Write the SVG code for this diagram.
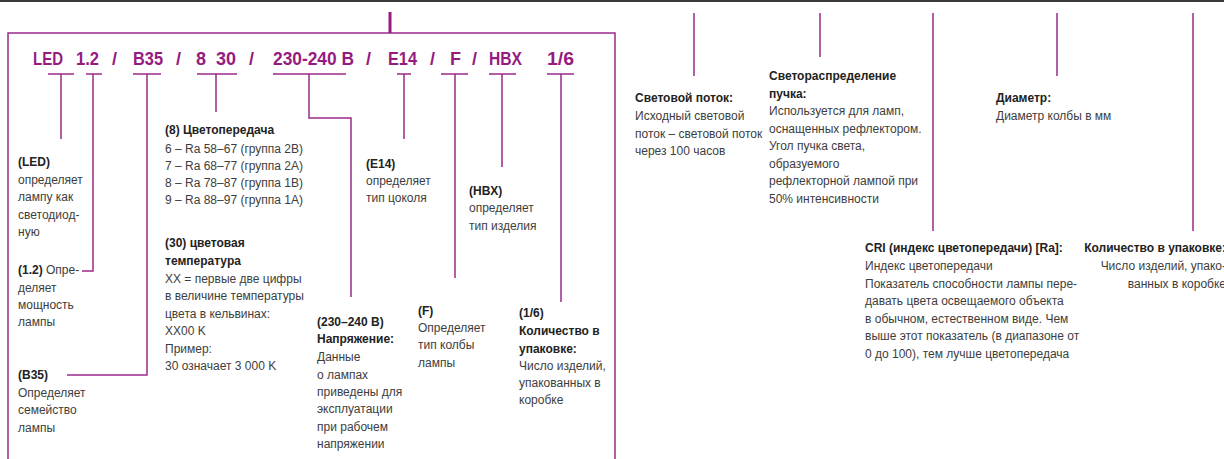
<svg xmlns="http://www.w3.org/2000/svg" width="1224" height="459" viewBox="0 0 1224 459">
<style>
text{font-family:"Liberation Sans",Arial,sans-serif;font-size:12px;fill:#3d3d3d}
.b{font-weight:bold;fill:#222}
.t{font-size:18px;font-weight:bold;fill:#951b81}
.c{fill:none;stroke:#9a2a8a;stroke-width:1.5}
.e{text-anchor:end}
</style>
<rect width="1224" height="459" fill="#fff"/>
<line x1="0" y1="1" x2="1224" y2="1" stroke="#3a3a3a" stroke-width="2"/>
<g id="frame">
<path class="c" d="M8,459V33H615V459"/>
<line x1="390" y1="12" x2="390" y2="33" stroke="#951b81" stroke-width="3"/>
</g>
<g id="title">
<text class="t" x="33" y="65" textLength="30" lengthAdjust="spacingAndGlyphs">LED</text>
<text class="t" x="76" y="65" textLength="23" lengthAdjust="spacingAndGlyphs">1.2</text>
<text class="t" x="112" y="65">/</text>
<text class="t" x="133" y="65" textLength="30" lengthAdjust="spacingAndGlyphs">B35</text>
<text class="t" x="176" y="65">/</text>
<text class="t" x="196" y="65">8</text>
<text class="t" x="216" y="65">30</text>
<text class="t" x="249" y="65">/</text>
<text class="t" x="273" y="65" textLength="81" lengthAdjust="spacingAndGlyphs">230-240 В</text>
<text class="t" x="366" y="65">/</text>
<text class="t" x="388" y="65" textLength="29" lengthAdjust="spacingAndGlyphs">E14</text>
<text class="t" x="430" y="65">/</text>
<text class="t" x="450" y="65">F</text>
<text class="t" x="472" y="65">/</text>
<text class="t" x="489" y="65" textLength="33" lengthAdjust="spacingAndGlyphs">HBX</text>
<text class="t" x="547" y="65" textLength="27" lengthAdjust="spacingAndGlyphs">1/6</text>
</g>
<g id="connectors">
<path class="c" d="M48,74H74M61,74V139"/>
<path class="c" d="M86,74H102M93,74V271H82"/>
<path class="c" d="M133,74H161M147,74V375H67"/>
<path class="c" d="M197,74H237M216,74V112"/>
<path class="c" d="M273,74H346M309,74V118H351V297"/>
<path class="c" d="M397,74H411M404,74V139"/>
<path class="c" d="M441,74H468M455,74V278"/>
<path class="c" d="M489,74H516M502,74V167"/>
<path class="c" d="M547,74H574M561,74V302"/>
<path class="c" d="M694,13V76"/>
<path class="c" d="M820,13V57"/>
<path class="c" d="M933,13V231"/>
<path class="c" d="M1057,13V76"/>
<path class="c" d="M1193,13V231"/>
</g>
<g id="n-led">
<text x="18" y="166" class="b">(LED)</text>
<text x="18" y="183.5">определяет</text>
<text x="18" y="201">лампу как</text>
<text x="18" y="218.5">светодиод-</text>
<text x="18" y="236">ную</text>
</g>
<g id="n-12">
<text x="18" y="274"><tspan class="b">(1.2)</tspan> Опре-</text>
<text x="18" y="292">деляет</text>
<text x="18" y="309">мощность</text>
<text x="18" y="326">лампы</text>
</g>
<g id="n-b35">
<text x="18" y="379" class="b">(B35)</text>
<text x="18" y="397">Определяет</text>
<text x="18" y="414">семейство</text>
<text x="18" y="432">лампы</text>
</g>
<g id="n-8">
<text x="165" y="134" class="b">(8) Цветопередача</text>
<text x="165" y="153">6 – Ra 58–67 (группа 2В)</text>
<text x="165" y="170">7 – Ra 68–77 (группа 2А)</text>
<text x="165" y="187">8 – Ra 78–87 (группа 1В)</text>
<text x="165" y="204">9 – Ra 88–97 (группа 1А)</text>
</g>
<g id="n-30">
<text x="165" y="247" class="b">(30) цветовая</text>
<text x="165" y="265" class="b">температура</text>
<text x="165" y="283">XX = первые две цифры</text>
<text x="165" y="300">в величине температуры</text>
<text x="165" y="318">цвета в кельвинах:</text>
<text x="165" y="335">XX00 K</text>
<text x="165" y="353">Пример:</text>
<text x="165" y="370">30 означает 3 000 K</text>
</g>
<g id="n-230">
<text x="317" y="326" class="b">(230–240 В)</text>
<text x="317" y="343" class="b">Напряжение:</text>
<text x="317" y="361">Данные</text>
<text x="317" y="379">о лампах</text>
<text x="317" y="396">приведены для</text>
<text x="317" y="413">эксплуатации</text>
<text x="317" y="431">при рабочем</text>
<text x="317" y="448">напряжении</text>
</g>
<g id="n-e14">
<text x="366" y="168" class="b">(E14)</text>
<text x="366" y="185">определяет</text>
<text x="366" y="202">тип цоколя</text>
</g>
<g id="n-f">
<text x="418" y="315" class="b">(F)</text>
<text x="418" y="332">Определяет</text>
<text x="418" y="349">тип колбы</text>
<text x="418" y="367">лампы</text>
</g>
<g id="n-hbx">
<text x="469" y="195" class="b">(HBX)</text>
<text x="469" y="212">определяет</text>
<text x="469" y="230">тип изделия</text>
</g>
<g id="n-16">
<text x="519" y="317" class="b">(1/6)</text>
<text x="519" y="335" class="b">Количество в</text>
<text x="519" y="353" class="b">упаковке:</text>
<text x="519" y="370">Число изделий,</text>
<text x="519" y="387">упакованных в</text>
<text x="519" y="404">коробке</text>
</g>
<g id="n-flux">
<text x="635" y="102" class="b">Световой поток:</text>
<text x="635" y="120">Исходный световой</text>
<text x="635" y="138">поток – световой поток</text>
<text x="635" y="155">через 100 часов</text>
</g>
<g id="n-beam">
<text x="769" y="80" class="b">Светораспределение</text>
<text x="769" y="97.5" class="b">пучка:</text>
<text x="769" y="115">Используется для ламп,</text>
<text x="769" y="132.5">оснащенных рефлектором.</text>
<text x="769" y="150">Угол пучка света,</text>
<text x="769" y="167.5">образуемого</text>
<text x="769" y="185">рефлекторной лампой при</text>
<text x="769" y="203">50% интенсивности</text>
</g>
<g id="n-diam">
<text x="996" y="102" class="b">Диаметр:</text>
<text x="996" y="120">Диаметр колбы в мм</text>
</g>
<g id="n-cri">
<text x="865" y="252" class="b">CRI (индекс цветопередачи) [Ra]:</text>
<text x="865" y="270">Индекс цветопередачи</text>
<text x="865" y="287.5">Показатель способности лампы пере-</text>
<text x="865" y="305">давать цвета освещаемого объекта</text>
<text x="865" y="322.5">в обычном, естественном виде. Чем</text>
<text x="865" y="340">выше этот показатель (в диапазоне от</text>
<text x="865" y="357.5">0 до 100), тем лучше цветопередача</text>
</g>
<g id="n-qty">
<text x="1226" y="252" class="b e">Количество в упаковке:</text>
<text x="1226" y="270" class="e">Число изделий, упако-</text>
<text x="1226" y="287.5" class="e">ванных в коробке</text>
</g>
</svg>
